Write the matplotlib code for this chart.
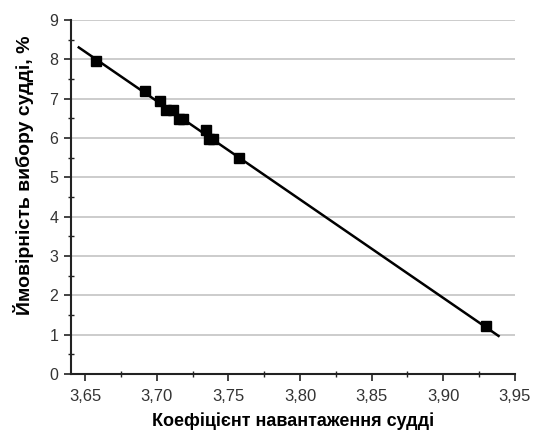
import matplotlib
matplotlib.use("Agg")
import matplotlib.pyplot as plt
from matplotlib.ticker import MultipleLocator, FuncFormatter

plt.rcParams['font.family'] = ['Liberation Sans', 'DejaVu Sans']

x_pts = [3.6575, 3.6917, 3.7022, 3.7064, 3.711, 3.7157, 3.7185, 3.7342, 3.7365, 3.739, 3.7575, 3.930]
y_pts = [7.95, 7.20, 6.95, 6.72, 6.72, 6.47, 6.47, 6.20, 5.97, 5.97, 5.48, 1.21]
line_x = [3.6455, 3.9386]
line_y = [8.30, 0.97]

fig = plt.figure(figsize=(5.33, 4.32), dpi=100)
ax = fig.add_axes([0.133, 0.134, 0.833, 0.820])

ax.plot(line_x, line_y, color='black', lw=1.8, zorder=3)
ax.plot(x_pts, y_pts, 's', color='black', ms=6.5, zorder=4)

ax.set_xlim(3.64, 3.95)
ax.set_ylim(0, 9)
ax.xaxis.set_major_locator(MultipleLocator(0.05))
ax.xaxis.set_minor_locator(MultipleLocator(0.025))
ax.yaxis.set_major_locator(MultipleLocator(1))
ax.yaxis.set_minor_locator(MultipleLocator(0.5))
ax.xaxis.set_major_formatter(FuncFormatter(lambda v, p: f"{v:.2f}".replace('.', ',')))

ax.grid(axis='y', which='major', color='#c8c8c8', lw=1.3, zorder=0)
ax.set_axisbelow(True)
for s in ['top', 'right']:
    ax.spines[s].set_visible(False)
for s in ['left', 'bottom']:
    ax.spines[s].set_linewidth(1.5)
    ax.spines[s].set_color('#222222')
ax.tick_params(which='major', direction='out', length=5, width=1.2, color='#222222', labelcolor='#333333')
ax.tick_params(axis='x', which='major', labelsize=12, pad=6)
ax.tick_params(axis='y', which='major', labelsize=11.5, pad=4)
ax.tick_params(which='minor', direction='inout', length=4, width=1.0, color='#222222')

ax.set_xlabel('Коефіцієнт навантаження судді', fontsize=13, fontweight='bold')
ax.xaxis.set_label_coords(0.5, -0.107)
ax.set_ylabel('Ймовірність вибору судді, %', fontsize=14, fontweight='bold')
ax.yaxis.set_label_coords(-0.082, 0.56)

fig.savefig('out.png', dpi=100)
